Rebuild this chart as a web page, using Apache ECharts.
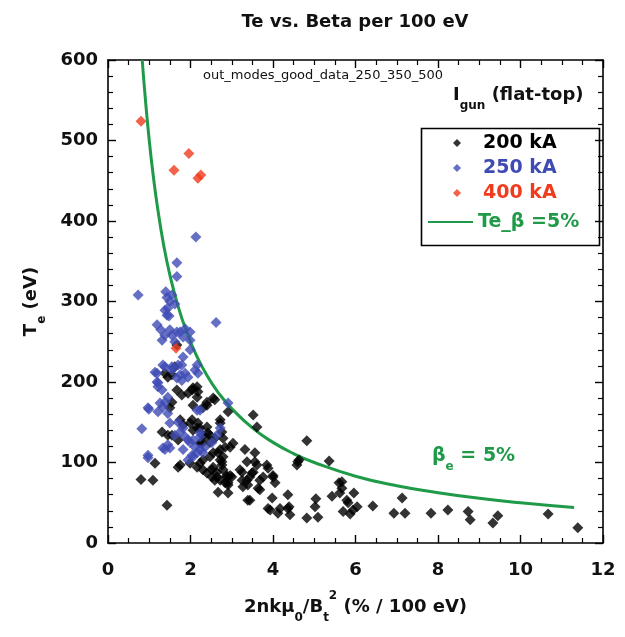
<!DOCTYPE html>
<html><head><meta charset="utf-8">
<script src="https://cdn.jsdelivr.net/npm/echarts@6/dist/echarts.min.js"></script>
<style>html,body{margin:0;padding:0;background:#fff}#c{width:625px;height:637px}</style>
</head><body><div id="c"></div>
<script>
// ---- data ----
const xRange = [0, 12], xStep = 2;
const yRange = [0, 600], yStep = 100;

const black200 = [
[0.80,79],[1.09,78],[1.14,99],[1.43,47],
[1.31,138],[1.45,134],[1.55,134],[1.70,128],[1.70,94],[1.75,97],
[1.38,211],[1.45,206],[1.55,209],[1.62,219],[1.67,246],
[1.67,190],[1.55,175],[1.50,168],[1.79,184],[1.94,186],[2.04,190],[2.06,193],[2.16,194],[2.18,188],[2.16,181],
[2.55,180],[2.59,178],[2.40,171],[2.30,168],[2.40,175],[2.06,171],
[2.91,163],[3.52,159],[3.61,144],
[1.75,153],[1.82,147],[1.99,149],[2.04,153],[2.18,149],[2.16,143],[2.23,143],[2.40,144],[2.06,140],[2.42,137],
[2.30,134],[2.47,134],[2.35,132],[2.59,130],[2.72,153],[2.72,149],[2.76,138],[2.79,130],
[2.23,124],[2.28,124],[2.47,125],[3.03,124],[2.84,119],[2.96,119],[2.67,112],[2.72,116],[2.79,107],[2.76,101],
[3.32,116],[3.56,112],[3.37,101],[3.61,97],[3.56,101],
[1.99,99],[2.16,94],[2.23,99],[2.30,103],[2.30,91],[2.40,87],[2.47,107],[2.52,91],[2.55,94],[2.55,112],
[2.64,82],[2.72,78],[2.88,82],[2.88,84],[3.00,82],[2.84,75],[2.91,75],[2.91,72],[2.96,84],
[2.72,103],[2.76,97],[2.79,91],[2.64,88],[2.52,82],[2.59,78],
[3.20,91],[3.25,88],[3.25,78],[3.37,78],[3.44,82],[3.52,88],[3.49,87],[3.68,78],[3.76,82],[3.39,72],
[3.85,97],[3.88,93],[4.00,82],[4.05,75],[4.00,84],
[3.27,70],[3.68,66],[3.64,68],[2.67,63],[2.91,62],[3.39,53],[3.44,53],
[3.98,56],[4.36,60],[3.88,43],[3.93,41],[4.12,37],[4.17,43],[4.36,43],[4.41,35],[4.39,45],
[4.58,97],[4.63,103],[4.60,101],[4.82,127],[5.36,102],
[4.82,31],[5.09,32],[5.04,55],[5.02,45],
[5.43,58],[5.62,62],[5.60,75],[5.67,68],[5.67,76],[5.70,39],[5.87,36],[5.94,41],[6.04,45],[5.82,50],[5.79,53],[5.96,62],
[6.42,46],[6.93,37],[7.20,37],[7.13,56],[7.83,37],[8.24,41],[8.73,39],[8.78,29],[9.33,25],[9.45,34],[10.67,36],[11.39,19]
];

const blue250 = [
[0.73,308],[1.67,348],[1.67,331],[2.13,380],[2.62,274],
[1.40,312],[1.43,305],[1.50,300],[1.55,308],[1.62,297],[1.38,289],[1.43,283],[1.48,282],[1.45,292],
[1.19,271],[1.28,265],[1.38,258],[1.50,265],[1.55,258],[1.67,262],[1.75,262],[1.87,266],[1.99,262],[1.62,250],[1.82,256],[1.99,252],[1.31,252],
[1.99,240],[1.82,231],
[1.33,221],[1.38,219],[1.55,219],[1.55,215],[1.70,221],[1.79,221],[1.87,211],[1.79,202],[1.94,206],[2.11,215],[2.16,221],[2.18,211],
[1.14,212],[1.19,211],[1.19,200],[1.21,199],[1.21,194],[1.31,190],[1.67,205],[1.75,209],
[1.45,181],[1.38,175],[1.26,174],[1.33,169],[1.21,163],[1.45,161],[1.50,149],[0.97,168],[0.99,166],[0.82,142],
[2.16,165],[2.23,165],[2.72,143],[2.91,174],
[1.70,150],[1.82,143],[1.62,134],[1.75,138],[1.87,132],[1.94,128],[1.99,125],[2.23,132],[2.11,119],[2.23,116],[2.35,119],[2.52,125],[2.64,134],[2.30,112],
[1.33,118],[1.45,122],[1.38,116],[1.50,118],[0.97,109],[0.97,106],[1.82,116],[1.94,103],[2.04,109],[2.06,107],
[2.23,137],[2.06,128],[2.16,112]
];

const red400 = [[0.80,524],[1.60,463],[1.96,484],[2.18,453],[2.25,457],[1.65,242]];

// Te_beta = 5% curve
const betaCurveX = [0.83,0.9,1.0,1.1,1.2,1.35,1.5,1.7,1.9,2.1,2.4,2.7,3.0,3.5,4,4.5,5,6,7,8,9,10,11.3];
const betaCurveY = [600,555,500,455,417,370,333,294,263,238,208,185,167,143,125,111,100,83,71,62.5,55.5,50,44];

const seriesNames = ['200 kA', '250 kA', '400 kA', 'Te_β =5%'];

// ---- styling ----
const FONT = 'DejaVu Sans';
const BLACK = '#000000', BLUE = '#3f4bb4', RED = '#f03c1e', GREEN = '#1f9a48';

function axis(kind, pos, showLabel, extra) {
  const isX = kind === 'x';
  const a = {
    type: 'value', position: pos,
    min: isX ? xRange[0] : yRange[0], max: isX ? xRange[1] : yRange[1],
    interval: isX ? xStep : yStep,
    axisLine: { show: true, onZero: false, lineStyle: { color: '#000', width: 1.6 } },
    axisTick: { show: true, inside: true, length: 8, lineStyle: { color: '#000', width: 1.4 } },
    minorTick: { show: true, splitNumber: isX ? 4 : 5, length: 5, lineStyle: { color: '#000', width: 1.2 } },
    splitLine: { show: false }, minorSplitLine: { show: false },
    axisLabel: { show: showLabel, margin: isX ? 18 : 10, fontFamily: FONT, fontWeight: 'bold', fontSize: 18, color: '#111' }
  };
  return Object.assign(a, extra || {});
}

const subRich = {
  s: { fontFamily: FONT, fontWeight: 'bold', fontSize: 12, lineHeight: 14, verticalAlign: 'bottom' },
  p: { fontFamily: FONT, fontWeight: 'bold', fontSize: 12, lineHeight: 14, verticalAlign: 'top' }
};

const chart = echarts.init(document.getElementById('c'));
chart.setOption({
  animation: false,
  backgroundColor: '#fff',
  grid: { left: 108, right: 22, top: 60, bottom: 94 },
  title: [
    { text: 'Te vs. Beta per 100 eV', left: 355, textAlign: 'center', top: 13, padding: 0,
      textStyle: { fontFamily: FONT, fontWeight: 'bold', fontSize: 18, color: '#111' } },
    { text: 'out_modes_good_data_250_350_500', left: 323, textAlign: 'center', top: 69, padding: 0,
      textStyle: { fontFamily: FONT, fontWeight: 'normal', fontSize: 13, color: '#111' } },
    { text: 'I{s|gun} (flat-top)', left: 453, top: 78, padding: 0,
      textStyle: { fontFamily: FONT, fontWeight: 'bold', fontSize: 18, lineHeight: 34, color: '#111', rich: subRich } },
    { text: 'β{s|e} = 5%', left: 432, top: 439, padding: 0,
      textStyle: { fontFamily: FONT, fontWeight: 'bold', fontSize: 19, lineHeight: 34, color: GREEN,
        rich: { s: Object.assign({}, subRich.s, { color: GREEN }) } } }
  ],
  legend: [
    { data: [ { name: seriesNames[0], textStyle: { color: BLACK } },
              { name: seriesNames[1], textStyle: { color: BLUE } },
              { name: seriesNames[2], textStyle: { color: RED } } ],
      orient: 'vertical', left: 453, top: 133, padding: 0, itemGap: 5,
      itemWidth: 8, itemHeight: 8, icon: 'diamond', selectedMode: false,
      textStyle: { fontFamily: FONT, fontWeight: 'bold', fontSize: 19, lineHeight: 20, padding: [0, 0, 0, 17] } },
    { data: [ { name: seriesNames[3], icon: 'rect', textStyle: { color: GREEN } } ],
      orient: 'vertical', left: 428, top: 212, padding: 0,
      itemWidth: 45, itemHeight: 2, selectedMode: false,
      itemStyle: { color: GREEN },
      textStyle: { fontFamily: FONT, fontWeight: 'bold', fontSize: 19, lineHeight: 20 } }
  ],
  graphic: [
    { type: 'rect', left: 419, top: 126, shape: { width: 178, height: 117 },
      style: { fill: 'none', stroke: '#000', lineWidth: 1.6 }, silent: true }
  ],
  xAxis: [
    axis('x', 'bottom', true, {
      name: '2nkμ{s|0}/B{s|t}{p|2} (% / 100 eV)', nameLocation: 'middle', nameGap: 47,
      nameTextStyle: { fontFamily: FONT, fontWeight: 'bold', fontSize: 18, lineHeight: 34, color: '#111', rich: subRich } }),
    axis('x', 'top', false)
  ],
  yAxis: [
    axis('y', 'left', true, {
      name: 'T{s|e} (eV)', nameLocation: 'middle', nameGap: 60, nameRotate: 90,
      nameTextStyle: { fontFamily: FONT, fontWeight: 'bold', fontSize: 18, lineHeight: 34, color: '#111', rich: subRich } }),
    axis('y', 'right', false)
  ],
  series: [
    { name: seriesNames[3], type: 'line', xAxisIndex: 0, yAxisIndex: 0, smooth: true, symbol: 'none',
      data: betaCurveX.map((x, i) => [x, betaCurveY[i]]),
      lineStyle: { color: GREEN, width: 3 }, itemStyle: { color: GREEN }, z: 2 },
    { name: seriesNames[0], type: 'scatter', data: black200, symbol: 'diamond', symbolSize: 11,
      itemStyle: { color: BLACK }, z: 3 },
    { name: seriesNames[1], type: 'scatter', data: blue250, symbol: 'diamond', symbolSize: 11,
      itemStyle: { color: BLUE }, z: 4 },
    { name: seriesNames[2], type: 'scatter', data: red400, symbol: 'diamond', symbolSize: 11,
      itemStyle: { color: RED }, z: 5 }
  ]
});
</script>
</body></html>
